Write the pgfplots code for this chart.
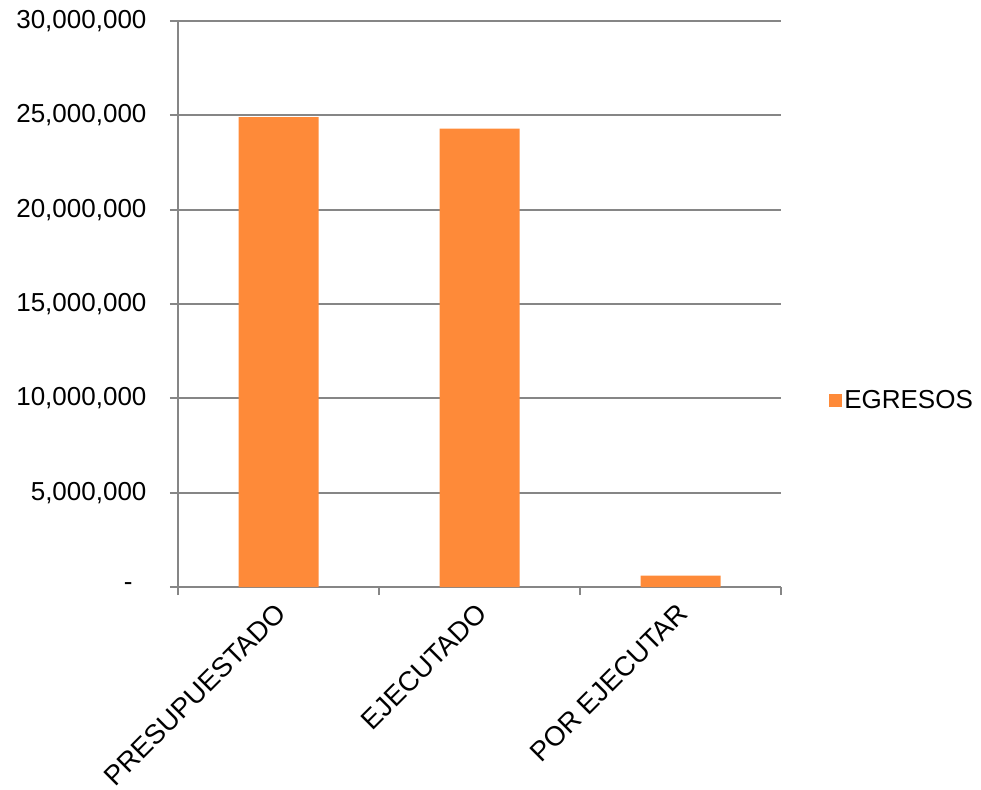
\documentclass[border=0pt]{standalone}
\usepackage{pgfplots}
\pgfplotsset{compat=1.18}
\usepackage{fontspec}
\setmainfont{Liberation Sans}
\definecolor{barorange}{RGB}{254,138,57}
\definecolor{axgray}{RGB}{134,134,134}
\begin{document}
\begin{tikzpicture}
\path[use as bounding box] (0,0) rectangle (981pt,789pt);
\begin{axis}[
  at={(178pt,202pt)}, anchor=south west,
  scale only axis, width=603pt, height=566pt,
  xmin=0, xmax=3, ymin=0, ymax=30000000,
  axis x line*=bottom, axis y line*=left,
  axis line style={axgray, line width=2pt, -},
  ybar, bar width=80pt, bar shift=0pt,
  xtick={0,1,2,3}, xticklabels={},
  extra x ticks={0.5,1.5,2.5},
  extra x tick labels={PRESUPUESTADO,EJECUTADO,POR EJECUTAR},
  extra x tick style={major tick length=0pt, grid=none,
     xticklabel style={rotate=45, anchor=east, xshift=-10pt, yshift=-17pt}},
  ytick={0,5000000,10000000,15000000,20000000,25000000,30000000},
  yticklabels={-\kern14pt\relax,{5,000,000},{10,000,000},{15,000,000},{20,000,000},{25,000,000},{30,000,000}},
  scaled y ticks=false,
  tick align=outside, major tick length=8pt,
  tick style={axgray, line width=2pt},
  ymajorgrids, grid style={axgray, line width=2pt},
  ticklabel style={font=\fontsize{26}{30}\selectfont, text=black},
  xticklabel style={font=\fontsize{27.4}{31}\selectfont},
  yticklabel style={xshift=-20pt},
  legend style={at={(1.0797,0.33)}, anchor=west, draw=none, inner sep=0pt,
     font=\fontsize{26}{30}\selectfont},
  legend image code/.code={\fill[barorange] (-4pt,-6.5pt) rectangle (9pt,6.5pt);},
]
\addplot[fill=barorange, draw=none] coordinates {(0.5,24900000) (1.5,24300000) (2.5,600000)};
\addlegendentry{EGRESOS}
\end{axis}
\end{tikzpicture}
\end{document}
